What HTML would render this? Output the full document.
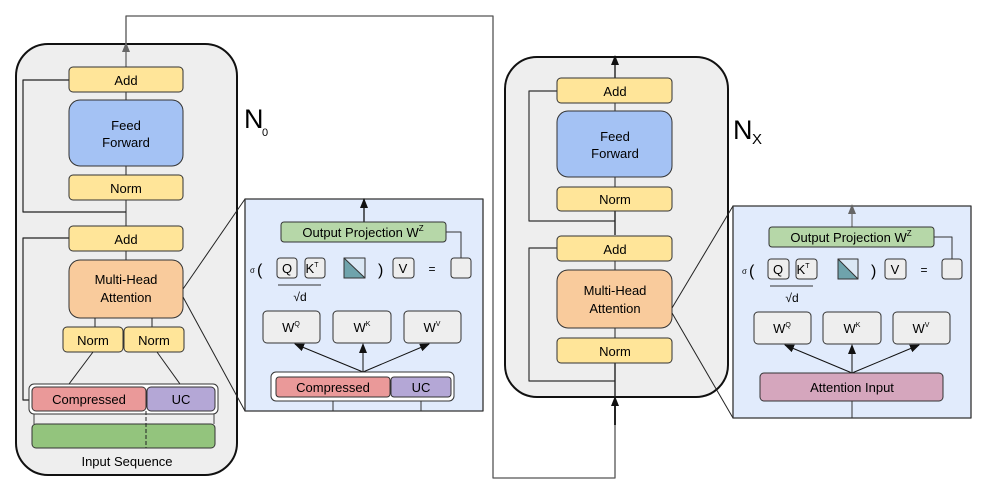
<!DOCTYPE html>
<html><head><meta charset="utf-8"><style>
html,body{margin:0;padding:0;background:#fff;}
svg{display:block;font-family:"Liberation Sans",sans-serif;}
</style></head><body>
<svg width="991" height="492" viewBox="0 0 991 492" xmlns="http://www.w3.org/2000/svg">
<defs>
<marker id="ab" markerWidth="10" markerHeight="8" refX="9" refY="4" orient="auto" markerUnits="userSpaceOnUse"><path d="M0,0 L10,4 L0,8 z" fill="#111"/></marker>
<marker id="ag" markerWidth="10" markerHeight="8" refX="9" refY="4" orient="auto" markerUnits="userSpaceOnUse"><path d="M0,0 L10,4 L0,8 z" fill="#666"/></marker>
</defs>
<g stroke-linejoin="round">
<!-- long connector -->
<polyline points="126,44 126,16 493,16 493,478 615,478 615,405" fill="none" stroke="#555" stroke-width="1.3"/>
<line x1="615" y1="425" x2="615" y2="400" stroke="#111" stroke-width="1.8"/>
<path d="M611,406 L615,396 L619,406 z" fill="#111"/>

<!-- LEFT BLOCK -->
<rect x="16" y="44" width="221" height="431" rx="32" fill="#eeeeee" stroke="#111" stroke-width="2"/>
<line x1="126" y1="67" x2="126" y2="43" stroke="#666" stroke-width="1.3" marker-end="url(#ag)"/>
<polyline points="69,80 23,80 23,212 126,212" fill="none" stroke="#222" stroke-width="1.2"/>
<line x1="126" y1="92" x2="126" y2="100" stroke="#222"/>
<line x1="126" y1="166" x2="126" y2="175" stroke="#222"/>
<line x1="126" y1="200" x2="126" y2="226" stroke="#222"/>
<line x1="126" y1="251" x2="126" y2="260" stroke="#222"/>
<polyline points="69,238 23,238 23,400 31,400" fill="none" stroke="#222" stroke-width="1.2"/>
<rect x="69" y="67" width="114" height="25" rx="4" fill="#ffe599" stroke="#333"/>
<text x="126" y="85" font-size="13" text-anchor="middle">Add</text>
<rect x="69" y="100" width="114" height="66" rx="11" fill="#a4c2f4" stroke="#333"/>
<text x="126" y="130" font-size="13" text-anchor="middle">Feed</text>
<text x="126" y="147" font-size="13" text-anchor="middle">Forward</text>
<rect x="69" y="175" width="114" height="25" rx="4" fill="#ffe599" stroke="#333"/>
<text x="126" y="193" font-size="13" text-anchor="middle">Norm</text>
<rect x="69" y="226" width="114" height="25" rx="4" fill="#ffe599" stroke="#333"/>
<text x="126" y="244" font-size="13" text-anchor="middle">Add</text>
<rect x="69" y="260" width="114" height="58" rx="11" fill="#f9cb9c" stroke="#333"/>
<text x="126" y="284" font-size="13" text-anchor="middle">Multi-Head</text>
<text x="126" y="302" font-size="13" text-anchor="middle">Attention</text>
<line x1="95" y1="318" x2="95" y2="327" stroke="#222"/>
<line x1="152" y1="318" x2="152" y2="327" stroke="#222"/>
<rect x="63" y="327" width="60" height="25" rx="4" fill="#ffe599" stroke="#333"/>
<text x="93" y="345" font-size="13" text-anchor="middle">Norm</text>
<rect x="124" y="327" width="60" height="25" rx="4" fill="#ffe599" stroke="#333"/>
<text x="154" y="345" font-size="13" text-anchor="middle">Norm</text>
<line x1="93" y1="352" x2="69" y2="384" stroke="#222"/>
<line x1="157" y1="352" x2="180" y2="384" stroke="#222"/>
<rect x="29" y="384" width="189" height="30" rx="5" fill="#fff" stroke="#333"/>
<rect x="32" y="387" width="114" height="24" rx="4" fill="#ea9999" stroke="#333"/>
<text x="89" y="404" font-size="13" text-anchor="middle">Compressed</text>
<rect x="147" y="387" width="68" height="24" rx="4" fill="#b4a7d6" stroke="#333"/>
<text x="181" y="404" font-size="13" text-anchor="middle">UC</text>
<line x1="34" y1="414" x2="34" y2="424" stroke="#444"/>
<line x1="214" y1="414" x2="214" y2="424" stroke="#444"/>
<rect x="32" y="424" width="183" height="24" rx="4" fill="#93c47d" stroke="#333"/>
<line x1="146" y1="411" x2="146" y2="448" stroke="#222" stroke-dasharray="4,2"/>
<text x="127" y="466" font-size="13" text-anchor="middle">Input Sequence</text>
<text x="244" y="128" font-size="27">N</text>
<text x="262" y="136" font-size="11">0</text>

<!-- LEFT PANEL -->
<line x1="183" y1="289" x2="245" y2="199" stroke="#222"/>
<line x1="183" y1="297" x2="245" y2="411" stroke="#222"/>
<rect x="245" y="199" width="238" height="212" fill="#e1ebfc" stroke="#333" stroke-width="1.3"/>
<line x1="364" y1="222" x2="364" y2="199" stroke="#111" stroke-width="1.3" marker-end="url(#ab)"/>
<rect x="281" y="222" width="165" height="20" rx="3" fill="#b6d7a8" stroke="#333"/>
<text x="363" y="237" font-size="13" text-anchor="middle">Output Projection W<tspan font-size="8" dy="-6">Z</tspan></text>
<polyline points="446,232 461,232 461,258" fill="none" stroke="#333"/>
<rect x="451" y="258" width="20" height="20" rx="3" fill="#eee" stroke="#333"/>
<text x="250" y="273" font-size="8">σ</text>
<text x="257" y="275" font-size="16">(</text>
<rect x="277" y="258" width="20" height="20" rx="3" fill="#eee" stroke="#333"/>
<text x="287" y="273" font-size="13" text-anchor="middle">Q</text>
<rect x="305" y="258" width="20" height="20" rx="3" fill="#eee" stroke="#333"/>
<text x="312" y="273" font-size="13" text-anchor="middle">K<tspan font-size="7" dy="-6">T</tspan></text>
<rect x="344" y="258" width="21" height="20" fill="#dbe8f5" stroke="#333"/>
<path d="M344,258 L365,278 L344,278 z" fill="#6fa3ac" stroke="#333"/>
<text x="378" y="275" font-size="16">)</text>
<rect x="393" y="258" width="21" height="20" rx="3" fill="#eee" stroke="#333"/>
<text x="403" y="273" font-size="13" text-anchor="middle">V</text>
<text x="432" y="273" font-size="12" text-anchor="middle">=</text>
<line x1="278" y1="285" x2="321" y2="285" stroke="#333"/>
<text x="300" y="301" font-size="12" text-anchor="middle">√d</text>
<rect x="263" y="311" width="57" height="32" rx="4" fill="#eee" stroke="#333"/>
<text x="291" y="332" font-size="13" text-anchor="middle">W<tspan font-size="7" dy="-6">Q</tspan></text>
<rect x="333" y="311" width="58" height="32" rx="4" fill="#eee" stroke="#333"/>
<text x="362" y="332" font-size="13" text-anchor="middle">W<tspan font-size="7" dy="-6">K</tspan></text>
<rect x="404" y="311" width="57" height="32" rx="4" fill="#eee" stroke="#333"/>
<text x="432" y="332" font-size="13" text-anchor="middle">W<tspan font-size="7" dy="-6">V</tspan></text>
<line x1="363" y1="372" x2="295" y2="344" stroke="#111" marker-end="url(#ab)"/>
<line x1="363" y1="372" x2="363" y2="344" stroke="#111" marker-end="url(#ab)"/>
<line x1="363" y1="372" x2="429" y2="344" stroke="#111" marker-end="url(#ab)"/>
<rect x="271" y="372" width="183" height="29" rx="5" fill="#fff" stroke="#333"/>
<rect x="276" y="377" width="114" height="20" rx="3" fill="#ea9999" stroke="#333"/>
<text x="333" y="392" font-size="13" text-anchor="middle">Compressed</text>
<rect x="391" y="377" width="60" height="20" rx="3" fill="#b4a7d6" stroke="#333"/>
<text x="421" y="392" font-size="13" text-anchor="middle">UC</text>
<line x1="333" y1="401" x2="333" y2="411" stroke="#333"/>
<line x1="421" y1="401" x2="421" y2="411" stroke="#333"/>

<!-- RIGHT BLOCK -->
<rect x="505" y="57" width="223" height="340" rx="32" fill="#eeeeee" stroke="#111" stroke-width="2"/>
<line x1="615" y1="78" x2="615" y2="56" stroke="#111" stroke-width="1.3" marker-end="url(#ab)"/>
<polyline points="557,91 529,91 529,221 615,221" fill="none" stroke="#333" stroke-width="1.2"/>
<polyline points="557,248 529,248 529,381 615,381" fill="none" stroke="#333" stroke-width="1.2"/>
<line x1="615" y1="103" x2="615" y2="111" stroke="#222"/>
<line x1="615" y1="177" x2="615" y2="187" stroke="#222"/>
<line x1="615" y1="211" x2="615" y2="235" stroke="#222" stroke-width="1.4"/>
<line x1="615" y1="260" x2="615" y2="270" stroke="#222"/>
<line x1="615" y1="328" x2="615" y2="338" stroke="#222"/>
<line x1="615" y1="363" x2="615" y2="397" stroke="#222" stroke-width="1.4"/>
<rect x="557" y="78" width="115" height="25" rx="4" fill="#ffe599" stroke="#333"/>
<text x="615" y="96" font-size="13" text-anchor="middle">Add</text>
<rect x="557" y="111" width="115" height="66" rx="11" fill="#a4c2f4" stroke="#333"/>
<text x="615" y="141" font-size="13" text-anchor="middle">Feed</text>
<text x="615" y="158" font-size="13" text-anchor="middle">Forward</text>
<rect x="557" y="187" width="115" height="24" rx="4" fill="#ffe599" stroke="#333"/>
<text x="615" y="204" font-size="13" text-anchor="middle">Norm</text>
<rect x="557" y="236" width="115" height="25" rx="4" fill="#ffe599" stroke="#333"/>
<text x="615" y="254" font-size="13" text-anchor="middle">Add</text>
<rect x="557" y="270" width="115" height="58" rx="11" fill="#f9cb9c" stroke="#333"/>
<text x="615" y="295" font-size="13" text-anchor="middle">Multi-Head</text>
<text x="615" y="313" font-size="13" text-anchor="middle">Attention</text>
<rect x="557" y="338" width="115" height="25" rx="4" fill="#ffe599" stroke="#333"/>
<text x="615" y="356" font-size="13" text-anchor="middle">Norm</text>
<text x="733" y="139" font-size="27">N</text>
<text x="752" y="144" font-size="15">X</text>

<!-- RIGHT PANEL -->
<line x1="672" y1="308" x2="733" y2="206" stroke="#222"/>
<line x1="672" y1="313" x2="733" y2="418" stroke="#222"/>
<rect x="733" y="206" width="238" height="212" fill="#e1ebfc" stroke="#333" stroke-width="1.3"/>
<line x1="852" y1="227" x2="852" y2="205" stroke="#777" stroke-width="1.3" marker-end="url(#ag)"/>
<rect x="769" y="227" width="165" height="20" rx="3" fill="#b6d7a8" stroke="#333"/>
<text x="851" y="242" font-size="13" text-anchor="middle">Output Projection W<tspan font-size="8" dy="-6">Z</tspan></text>
<polyline points="934,237 952,237 952,259" fill="none" stroke="#333"/>
<rect x="942" y="259" width="20" height="20" rx="3" fill="#eee" stroke="#333"/>
<text x="742" y="274" font-size="8">σ</text>
<text x="749" y="276" font-size="16">(</text>
<rect x="768" y="259" width="21" height="20" rx="3" fill="#eee" stroke="#333"/>
<text x="778" y="274" font-size="13" text-anchor="middle">Q</text>
<rect x="796" y="259" width="21" height="20" rx="3" fill="#eee" stroke="#333"/>
<text x="803" y="274" font-size="13" text-anchor="middle">K<tspan font-size="7" dy="-6">T</tspan></text>
<rect x="838" y="259" width="20" height="20" fill="#dbe8f5" stroke="#333"/>
<path d="M838,259 L858,279 L838,279 z" fill="#6fa3ac" stroke="#333"/>
<text x="871" y="276" font-size="16">)</text>
<rect x="885" y="259" width="21" height="20" rx="3" fill="#eee" stroke="#333"/>
<text x="895" y="274" font-size="13" text-anchor="middle">V</text>
<text x="924" y="274" font-size="12" text-anchor="middle">=</text>
<line x1="770" y1="286" x2="813" y2="286" stroke="#333"/>
<text x="792" y="302" font-size="12" text-anchor="middle">√d</text>
<rect x="754" y="312" width="57" height="32" rx="4" fill="#eee" stroke="#333"/>
<text x="782" y="333" font-size="13" text-anchor="middle">W<tspan font-size="7" dy="-6">Q</tspan></text>
<rect x="823" y="312" width="58" height="32" rx="4" fill="#eee" stroke="#333"/>
<text x="852" y="333" font-size="13" text-anchor="middle">W<tspan font-size="7" dy="-6">K</tspan></text>
<rect x="893" y="312" width="57" height="32" rx="4" fill="#eee" stroke="#333"/>
<text x="921" y="333" font-size="13" text-anchor="middle">W<tspan font-size="7" dy="-6">V</tspan></text>
<line x1="852" y1="373" x2="785" y2="345" stroke="#111" marker-end="url(#ab)"/>
<line x1="852" y1="373" x2="852" y2="345" stroke="#111" marker-end="url(#ab)"/>
<line x1="852" y1="373" x2="919" y2="345" stroke="#111" marker-end="url(#ab)"/>
<rect x="760" y="373" width="183" height="28" rx="4" fill="#d5a6bd" stroke="#333"/>
<text x="852" y="392" font-size="13" text-anchor="middle">Attention Input</text>
<line x1="852" y1="401" x2="852" y2="418" stroke="#333"/>
</g>
</svg>
</body></html>
